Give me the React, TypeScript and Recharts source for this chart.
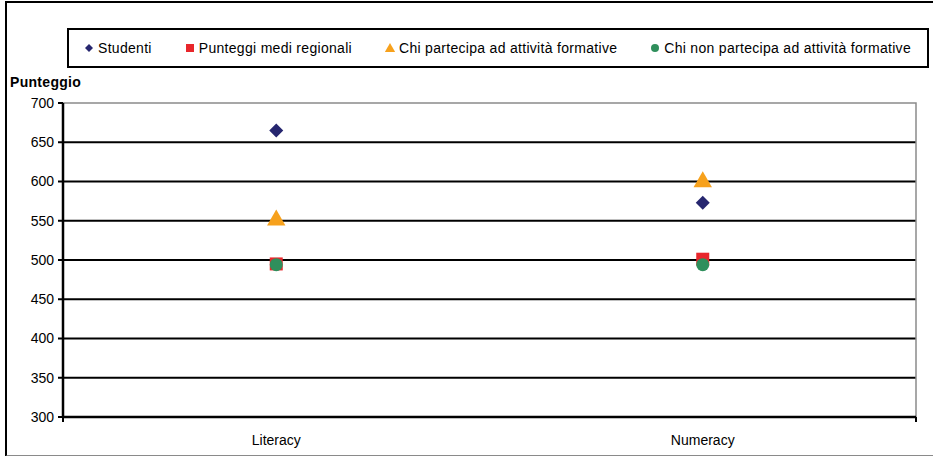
import {
  ComposedChart,
  Scatter,
  XAxis,
  YAxis,
  CartesianGrid,
  ReferenceArea,
  Legend,
} from "recharts";

const categories = ["Literacy", "Numeracy"];
const studenti = [665, 573];
const mediRegionali = [495, 501];
const partecipa = [553, 602];
const nonPartecipa = [494, 494];
const yTicks = [300, 350, 400, 450, 500, 550, 600, 650, 700];

const data = categories.map((cat, i) => ({
  cat,
  studenti: studenti[i],
  medi: mediRegionali[i],
  partecipa: partecipa[i],
  nonPartecipa: nonPartecipa[i],
}));

// boundaries between the category bands, for the bottom tick marks
const edgeTicks = categories.map((_, i) => i).concat(categories.length);

const FONT = "'Liberation Sans', Arial, sans-serif";
const NAVY = "#26266f";
const RED = "#e8262b";
const ORANGE = "#f7a11c";
const GREEN = "#2f8f5c";

const series = [
  { key: "studenti", name: "Studenti", color: NAVY, shape: "diamond" },
  { key: "medi", name: "Punteggi medi regionali", color: RED, shape: "square" },
  { key: "partecipa", name: "Chi partecipa ad attività formative", color: ORANGE, shape: "triangle" },
  { key: "nonPartecipa", name: "Chi non partecipa ad attività formative", color: GREEN, shape: "circle" },
];

function Marker({ shape, cx, cy, s, color }: any) {
  if (shape === "diamond")
    return <polygon points={`${cx},${cy - s} ${cx + s},${cy} ${cx},${cy + s} ${cx - s},${cy}`} fill={color} />;
  if (shape === "square")
    return <rect x={cx - s} y={cy - s} width={s * 2} height={s * 2} fill={color} />;
  if (shape === "triangle")
    return <polygon points={`${cx},${cy - s * 1.1} ${cx + s * 1.15},${cy + s * 0.9} ${cx - s * 1.15},${cy + s * 0.9}`} fill={color} />;
  return <circle cx={cx} cy={cy} r={s} fill={color} />;
}

const sizes: Record<string, number> = { diamond: 7, square: 6.5, triangle: 8, circle: 6.5 };

function LegendBox() {
  return (
    <div
      style={{
        boxSizing: "border-box",
        height: 40,
        border: "2px solid #000",
        display: "flex",
        alignItems: "center",
        paddingLeft: 15,
        fontFamily: FONT,
        fontSize: 14,
        letterSpacing: 0.3,
        color: "#000",
        background: "#fff",
        whiteSpace: "nowrap",
      }}
    >
      {series.map((s) => (
        <div key={s.key} style={{ display: "flex", alignItems: "center", marginRight: 33 }}>
          <svg width={10} height={10} style={{ marginRight: 4 }}>
            <Marker shape={s.shape} cx={5} cy={5} s={s.shape === "triangle" ? 4.5 : 4} color={s.color} />
          </svg>
          <span>{s.name}</span>
        </div>
      ))}
    </div>
  );
}

export default function App() {
  return (
    <div style={{ position: "absolute", left: 0, top: 0, width: 933, height: 456, background: "#fff" }}>
      <div
        style={{
          position: "absolute",
          left: 5,
          top: 1,
          width: 940,
          height: 452,
          borderTop: "2px solid #000",
          borderLeft: "2px solid #000",
          borderBottom: "2px solid #8a8a8a",
        }}
      />
      <ComposedChart
        width={933}
        height={456}
        data={data}
        margin={{ top: 103, right: 17, bottom: 0, left: 0 }}
        style={{ position: "absolute", left: 0, top: 0 }}
      >
        <ReferenceArea y1={300} y2={700} fill="none" stroke="#8a8a8a" strokeWidth={1.5} />
        <CartesianGrid
          vertical={false}
          horizontalValues={[350, 400, 450, 500, 550, 600, 650]}
          stroke="#000"
          strokeWidth={2}
        />
        <XAxis
          xAxisId="a"
          type="number"
          domain={[0, categories.length]}
          ticks={edgeTicks}
          tickFormatter={() => ""}
          height={8}
          axisLine={{ stroke: "#000", strokeWidth: 2.5 }}
          tickLine={{ stroke: "#000", strokeWidth: 2 }}
          tickSize={5}
        />
        <XAxis
          xAxisId="z"
          dataKey="cat"
          scale="band"
          height={31}
          axisLine={false}
          tickLine={false}
          tick={{ fill: "#000", fontSize: 14, fontFamily: FONT }}
          tickMargin={4}
        />
        <YAxis
          width={63}
          domain={[300, 700]}
          ticks={yTicks}
          interval={0}
          axisLine={{ stroke: "#000", strokeWidth: 2.5 }}
          tickLine={{ stroke: "#000", strokeWidth: 2 }}
          tickSize={5}
          tickMargin={4}
          tick={{ fill: "#000", fontSize: 14, fontFamily: FONT }}
          label={{
            content: ({ viewBox }: any) => (
              <text
                x={viewBox.x + 10}
                y={viewBox.y - 16}
                fontFamily={FONT}
                fontSize={14}
                letterSpacing={0.3}
                fontWeight="bold"
                fill="#000"
              >
                Punteggio
              </text>
            ),
          }}
        />
        <Legend
          verticalAlign="middle"
          align="center"
          content={() => <LegendBox />}
          wrapperStyle={{ top: 28, left: 67, width: 862, height: 40 }}
        />
        {series.map((s) => (
          <Scatter
            key={s.key}
            xAxisId="z"
            name={s.name}
            dataKey={s.key}
            fill={s.color}
            isAnimationActive={false}
            shape={(p: any) => (
              <Marker shape={s.shape} cx={p.cx} cy={p.cy} s={sizes[s.shape]} color={s.color} />
            )}
          />
        ))}
      </ComposedChart>
    </div>
  );
}
